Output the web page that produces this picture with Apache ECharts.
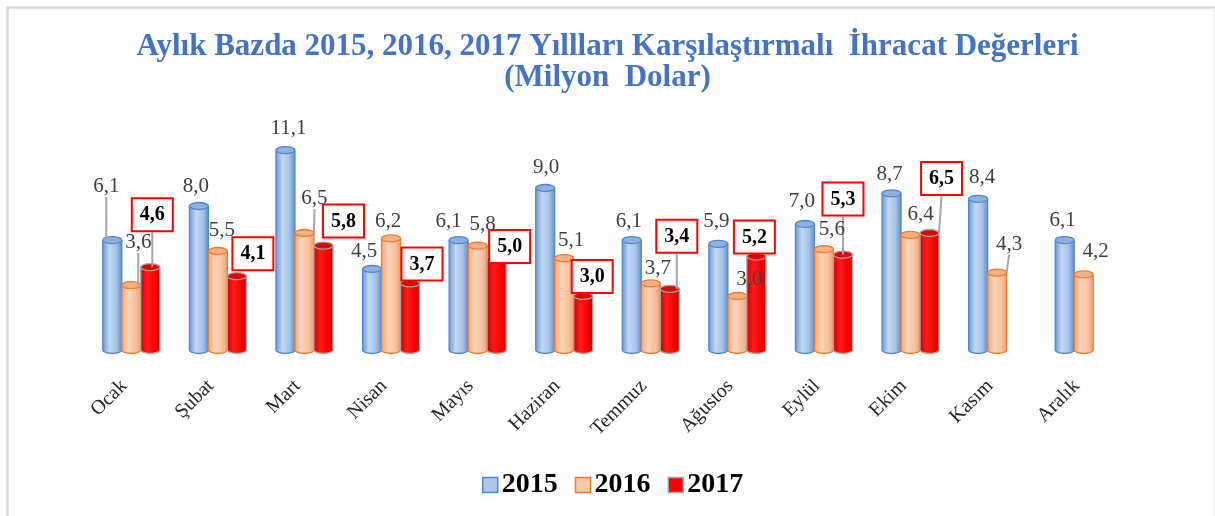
<!DOCTYPE html>
<html><head><meta charset="utf-8">
<script src="https://cdn.jsdelivr.net/npm/echarts@6/dist/echarts.min.js"></script>
<style>html,body{margin:0;padding:0;background:#fff}#c{width:1215px;height:516px}</style>
</head><body><div id="c"></div>
<script>
// ---- data ----
const months = ['Ocak','Şubat','Mart','Nisan','Mayıs','Haziran','Temmuz','Ağustos','Eylül','Ekim','Kasım','Aralık'];
const years = ['2015','2016','2017'];
const v2015 = [6.1, 8.0, 11.1, 4.5, 6.1, 9.0, 6.1, 5.9, 7.0, 8.7, 8.4, 6.1];
const v2016 = [3.6, 5.5, 6.5, 6.2, 5.8, 5.1, 3.7, 3.0, 5.6, 6.4, 4.3, 4.2];
const v2017 = [4.6, 4.1, 5.8, 3.7, 5.0, 3.0, 3.4, 5.2, 5.3, 6.5, null, null];
const titleLines = ['Aylık Bazda 2015, 2016, 2017 Yıllları Karşılaştırmalı  İhracat Değerleri', '(Milyon  Dolar)'];

// ---- label styling (offsets from default position, leader-line flags) ----
const off2015 = [[-6,-38],[-3,-4],[3,-6],[-8,-2],[-10,-3],[1,-5],[-3,-3],[-2,-7],[-3,-7],[-2,-3],[4,-6],[-2,-4]];
const line2015 = [true,false,false,false,false,false,false,false,false,false,false,false];
const off2016 = [[7,-27],[4,-5],[10,-19],[-3,-1],[5,-6],[7,-2],[7,1],[12,-1],[8,-4],[10,-5],[12,-13],[12,-7]];
const line2016 = [true,false,true,false,false,false,false,false,false,false,true,false];
const off2017 = [[2,-32],[16,-2],[20,-4],[12,1],[13,7],[9,1],[7,-32],[-2,1],[0,-35],[12,-34],[0,0],[0,0]];
const line2017 = [true,false,false,false,false,false,true,false,true,true,false,false];

const BW = 19, RY = 3.5;
const SERIF = '"Liberation Serif", "DejaVu Serif", serif';
const pal = [
  {stops:[{offset:0,color:'#6F9AD2'},{offset:0.35,color:'#C2D9F2'},{offset:0.7,color:'#A4C4EA'},{offset:1,color:'#6691CC'}], top:'#8DB1E0', edge:'#5587C6', legend:'#A9C8EC'},
  {stops:[{offset:0,color:'#F2A77A'},{offset:0.35,color:'#FCD4BA'},{offset:0.7,color:'#F9C4A2'},{offset:1,color:'#EFA072'}], top:'#F4B183', edge:'#ED7D31', legend:'#F8CBAD'},
  {stops:[{offset:0,color:'#D80000'},{offset:0.35,color:'#FF1A1A'},{offset:0.7,color:'#FF0000'},{offset:1,color:'#D00000'}], top:'#E00000', edge:'#A6A6A6', legend:'#FF0000'}
];
const fmt = v => v.toFixed(1).replace('.', ',');

function cylSeries(k, vals) {
  const p = pal[k];
  return {
    type: 'custom', name: 'cyl' + years[k], z: 3, silent: true,
    encode: {x: 0, y: 1},
    data: vals.map((v, i) => [i, v == null ? '-' : v]),
    renderItem: (params, api) => {
      const v = api.value(1);
      if (v == null || isNaN(v)) return null;
      const base = api.coord([api.value(0), 0]);
      const top = api.coord([api.value(0), v]);
      const cx = base[0] + (k - 1) * BW;
      const x = cx - BW / 2;
      const grad = new echarts.graphic.LinearGradient(0, 0, 1, 0, p.stops);
      return {type: 'group', children: [
        {type: 'ellipse', shape: {cx: cx, cy: base[1], rx: BW / 2, ry: RY}, style: {fill: grad, stroke: p.edge, lineWidth: 1.3}},
        {type: 'rect', shape: {x: x, y: top[1], width: BW, height: base[1] - top[1]}, style: {fill: grad}},
        {type: 'line', shape: {x1: x, y1: top[1], x2: x, y2: base[1]}, style: {stroke: p.edge, lineWidth: 1.3}},
        {type: 'line', shape: {x1: x + BW, y1: top[1], x2: x + BW, y2: base[1]}, style: {stroke: p.edge, lineWidth: 1.3}},
        {type: 'ellipse', shape: {cx: cx, cy: top[1], rx: BW / 2, ry: RY}, style: {fill: p.top, stroke: p.edge, lineWidth: 1.3}}
      ]};
    }
  };
}

function labelSeries(k, vals, offs, lines) {
  const boxed = k === 2;
  return {
    type: 'bar', name: years[k], z: 5, silent: true,
    barWidth: BW, barGap: '0%',
    itemStyle: {color: 'rgba(0,0,0,0)'},
    emphasis: {disabled: true},
    data: vals.map((v, i) => ({value: v, labelLine: {show: lines[i]}})),
    label: boxed ? {
      show: true, position: 'top', distance: 5,
      formatter: p => fmt(p.value),
      fontFamily: SERIF, fontSize: 20, fontWeight: 'bold', color: '#000',
      backgroundColor: '#fff', borderColor: '#FF0000', borderWidth: 2,
      padding: [6, 7, 5, 7]
    } : {
      show: true, position: 'top', distance: 5,
      formatter: p => fmt(p.value),
      fontFamily: SERIF, fontSize: 21, color: '#404040'
    },
    labelLine: {show: false, lineStyle: {color: '#A6A6A6', width: 2}},
    labelLayout: params => {
      const o = offs[params.dataIndex] || [0, 0];
      return {dx: o[0], dy: o[1]};
    }
  };
}

const chart = echarts.init(document.getElementById('c'), null, {renderer: 'canvas'});
chart.setOption({
  animation: false,
  backgroundColor: '#fff',
  title: {
    text: titleLines.join('\n'), left: 'center', top: 26,
    textStyle: {fontFamily: SERIF, fontSize: 31, fontWeight: 'bold', color: '#4472C4', lineHeight: 31}
  },
  graphic: [{
    type: 'rect', left: 5, top: 5, shape: {width: 1208, height: 530},
    style: {fill: 'none', stroke: '#D9D9D9', lineWidth: 2.5}, silent: true, z: -1
  }],
  legend: {
    bottom: 12, left: 477, itemWidth: 15, itemHeight: 15, itemGap: 17,
    icon: 'rect',
    textStyle: {fontFamily: SERIF, fontSize: 28, fontWeight: 'bold', color: '#000', padding: [0, 0, 0, -1]},
    data: years.map((y, k) => ({name: y, itemStyle: {color: pal[k].legend, borderColor: pal[k].edge, borderWidth: 1.5}}))
  },
  grid: {left: 88, right: 88, top: 134, bottom: 166},
  xAxis: {
    type: 'category', data: months,
    axisLine: {show: false}, axisTick: {show: false},
    axisLabel: {rotate: 45, margin: 26, padding: [0, 10, 0, 0], fontFamily: SERIF, fontSize: 20, color: '#262626', interval: 0}
  },
  yAxis: {type: 'value', min: 0, max: 12, show: false, splitLine: {show: false}},
  series: [
    cylSeries(0, v2015), cylSeries(1, v2016), cylSeries(2, v2017),
    labelSeries(0, v2015, off2015, line2015),
    labelSeries(1, v2016, off2016, line2016),
    labelSeries(2, v2017, off2017, line2017)
  ]
});
</script>
</body></html>
